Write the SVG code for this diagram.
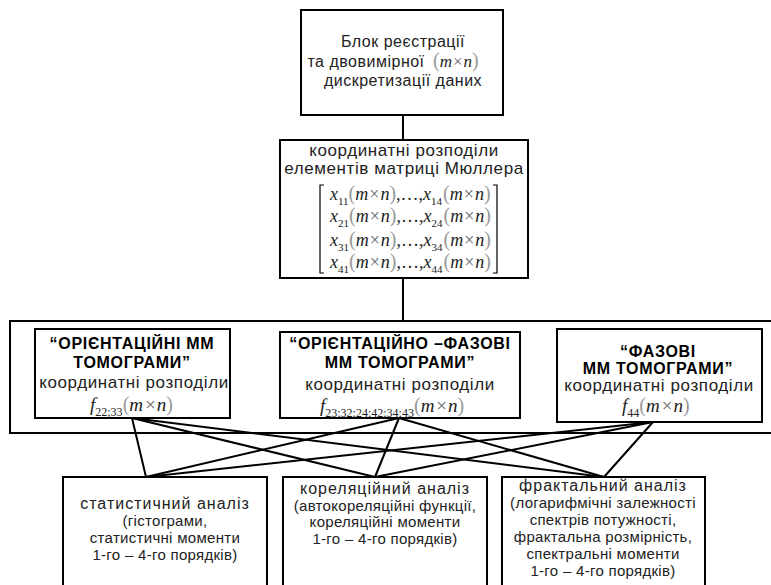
<svg xmlns="http://www.w3.org/2000/svg" width="771" height="585" viewBox="0 0 771 585">
<style>
.box{fill:#fff;stroke:#000;stroke-width:2}
.frame{fill:none;stroke:#000;stroke-width:2}
.conn line{stroke:#000;stroke-width:2;fill:none}
.t{font-family:"Liberation Sans",Arial,sans-serif;fill:#222;text-anchor:middle}
.b{font-weight:bold;font-size:16px;letter-spacing:0.7px;fill:#000}
.h{font-size:17px;letter-spacing:0.6px}
.s{font-size:15px;letter-spacing:0.3px}
.m{font-family:"Liberation Serif","Times New Roman",serif;font-style:italic;fill:#222}
.u{font-family:"Liberation Serif","Times New Roman",serif;font-style:normal;fill:#222}
.p{font-family:"Liberation Serif","Times New Roman",serif;font-style:normal;fill:#999;font-size:20px}
.x{font-family:"Liberation Serif","Times New Roman",serif;font-style:normal;fill:#666}
</style>
<rect width="771" height="585" fill="#fff"/>
<g id="connectors" class="conn">
<line x1="403" y1="115" x2="403" y2="140"/>
<line x1="403" y1="278" x2="403" y2="320"/>
<line x1="132" y1="418" x2="146" y2="477"/>
<line x1="132" y1="418" x2="375" y2="477"/>
<line x1="132" y1="418" x2="604" y2="477"/>
<line x1="399" y1="418" x2="146" y2="477"/>
<line x1="399" y1="418" x2="375" y2="477"/>
<line x1="399" y1="418" x2="604" y2="477"/>
<line x1="653" y1="422" x2="146" y2="477"/>
<line x1="653" y1="422" x2="375" y2="477"/>
<line x1="653" y1="422" x2="604" y2="477"/>
</g>
<g id="frame">
<rect class="frame" x="10" y="321" width="762" height="112"/>
</g>
<g id="registration">
<rect class="box" x="301" y="10" width="202" height="105"/>
<text class="t" font-size="16" letter-spacing="0.5"><tspan x="403" y="47">Блок реєстрації</tspan><tspan x="366" y="67">та двовимірної</tspan><tspan x="403" y="86">дискретизації даних</tspan></text>
<text x="433" y="67" font-size="17"><tspan class="p" font-size="19">(</tspan><tspan class="m">m</tspan><tspan class="x" dx="1">×</tspan><tspan class="m" dx="1">n</tspan><tspan class="p" font-size="19">)</tspan></text>
</g>
<g id="mueller">
<rect class="box" x="280" y="140" width="248" height="138"/>
<text class="t h"><tspan x="404" y="156">координатні розподіли</tspan><tspan x="404" y="174">елементів матриці Мюллера</tspan></text>
<path d="M324,185 H320 V273 H324 M493,185 H497 V273 H493" fill="none" stroke="#000" stroke-width="1.2"/>
<g font-size="18">
<text x="330" y="200"><tspan class="m">x</tspan><tspan class="u" font-size="11" dy="5">11</tspan><tspan class="p" dy="-5">(</tspan><tspan class="m">m</tspan><tspan class="x" dx="1">×</tspan><tspan class="m" dx="1">n</tspan><tspan class="p">)</tspan><tspan class="u">,…,</tspan><tspan class="m">x</tspan><tspan class="u" font-size="11" dy="5">14</tspan><tspan class="p" dy="-5" dx="1">(</tspan><tspan class="m">m</tspan><tspan class="x" dx="1">×</tspan><tspan class="m" dx="1">n</tspan><tspan class="p">)</tspan></text>
<text x="330" y="222"><tspan class="m">x</tspan><tspan class="u" font-size="11" dy="5">21</tspan><tspan class="p" dy="-5">(</tspan><tspan class="m">m</tspan><tspan class="x" dx="1">×</tspan><tspan class="m" dx="1">n</tspan><tspan class="p">)</tspan><tspan class="u">,…,</tspan><tspan class="m">x</tspan><tspan class="u" font-size="11" dy="5">24</tspan><tspan class="p" dy="-5" dx="1">(</tspan><tspan class="m">m</tspan><tspan class="x" dx="1">×</tspan><tspan class="m" dx="1">n</tspan><tspan class="p">)</tspan></text>
<text x="330" y="246"><tspan class="m">x</tspan><tspan class="u" font-size="11" dy="5">31</tspan><tspan class="p" dy="-5">(</tspan><tspan class="m">m</tspan><tspan class="x" dx="1">×</tspan><tspan class="m" dx="1">n</tspan><tspan class="p">)</tspan><tspan class="u">,…,</tspan><tspan class="m">x</tspan><tspan class="u" font-size="11" dy="5">34</tspan><tspan class="p" dy="-5" dx="1">(</tspan><tspan class="m">m</tspan><tspan class="x" dx="1">×</tspan><tspan class="m" dx="1">n</tspan><tspan class="p">)</tspan></text>
<text x="330" y="268"><tspan class="m">x</tspan><tspan class="u" font-size="11" dy="5">41</tspan><tspan class="p" dy="-5">(</tspan><tspan class="m">m</tspan><tspan class="x" dx="1">×</tspan><tspan class="m" dx="1">n</tspan><tspan class="p">)</tspan><tspan class="u">,…,</tspan><tspan class="m">x</tspan><tspan class="u" font-size="11" dy="5">44</tspan><tspan class="p" dy="-5" dx="1">(</tspan><tspan class="m">m</tspan><tspan class="x" dx="1">×</tspan><tspan class="m" dx="1">n</tspan><tspan class="p">)</tspan></text>
</g>
</g>
<g id="orientational">
<rect class="box" x="35" y="329" width="195" height="89"/>
<text class="t b" x="132" y="349">“ОРІЄНТАЦІЙНІ ММ</text>
<text class="t b" x="132" y="368">ТОМОГРАМИ”</text>
<text class="t h" x="134" y="388">координатні розподіли</text>
<text x="90" y="411" font-size="19"><tspan class="m">f</tspan><tspan class="u" font-size="12" dy="5">22;33</tspan><tspan class="p" dy="-5">(</tspan><tspan class="m">m</tspan><tspan class="x" dx="2">×</tspan><tspan class="m" dx="1">n</tspan><tspan class="p">)</tspan></text>
</g>
<g id="orientational-phase">
<rect class="box" x="280" y="332" width="240" height="86"/>
<text class="t b" x="400" y="349">“ОРІЄНТАЦІЙНО –ФАЗОВІ</text>
<text class="t b" x="400" y="368">ММ ТОМОГРАМИ”</text>
<text class="t h" x="400" y="390">координатні розподіли</text>
<text x="320" y="412" font-size="19"><tspan class="m">f</tspan><tspan class="u" font-size="12" dy="5">23;32;24;42;34;43</tspan><tspan class="p" dy="-5">(</tspan><tspan class="m">m</tspan><tspan class="x" dx="2">×</tspan><tspan class="m" dx="1">n</tspan><tspan class="p">)</tspan></text>
</g>
<g id="phase">
<rect class="box" x="557" y="329" width="205" height="93"/>
<text class="t b" x="658" y="357">“ФАЗОВІ</text>
<text class="t b" x="658" y="374">ММ ТОМОГРАМИ”</text>
<text class="t h" x="659" y="391">координатні розподіли</text>
<text x="622" y="412" font-size="19"><tspan class="m">f</tspan><tspan class="u" font-size="12" dy="5">44</tspan><tspan class="p" dy="-5">(</tspan><tspan class="m">m</tspan><tspan class="x" dx="2">×</tspan><tspan class="m" dx="1">n</tspan><tspan class="p">)</tspan></text>
</g>
<g id="statistical">
<rect class="box" x="63" y="477" width="204" height="112"/>
<text class="t" font-size="16" letter-spacing="1" x="165" y="509">статистичний аналіз</text>
<text class="t s"><tspan x="165" y="526">(гістограми,</tspan><tspan x="165" y="543">статистичні моменти</tspan><tspan x="165" y="560">1-го – 4-го порядків)</tspan></text>
</g>
<g id="correlation">
<rect class="box" x="283" y="477" width="204" height="112"/>
<text class="t" font-size="16" letter-spacing="1" x="385" y="494">кореляційний аналіз</text>
<text class="t s"><tspan x="385" y="511">(автокореляційні функції,</tspan><tspan x="385" y="527">кореляційні моменти</tspan><tspan x="385" y="544">1-го – 4-го порядків)</tspan></text>
</g>
<g id="fractal">
<rect class="box" x="502" y="477" width="203" height="112"/>
<text class="t" font-size="16" letter-spacing="1" x="603" y="491">фрактальний аналіз</text>
<text class="t s"><tspan x="603" y="508">(логарифмічні залежності</tspan><tspan x="603" y="525">спектрів потужності,</tspan><tspan x="603" y="542">фрактальна розмірність,</tspan><tspan x="603" y="559">спектральні моменти</tspan><tspan x="603" y="576">1-го – 4-го порядків)</tspan></text>
</g>
</svg>
